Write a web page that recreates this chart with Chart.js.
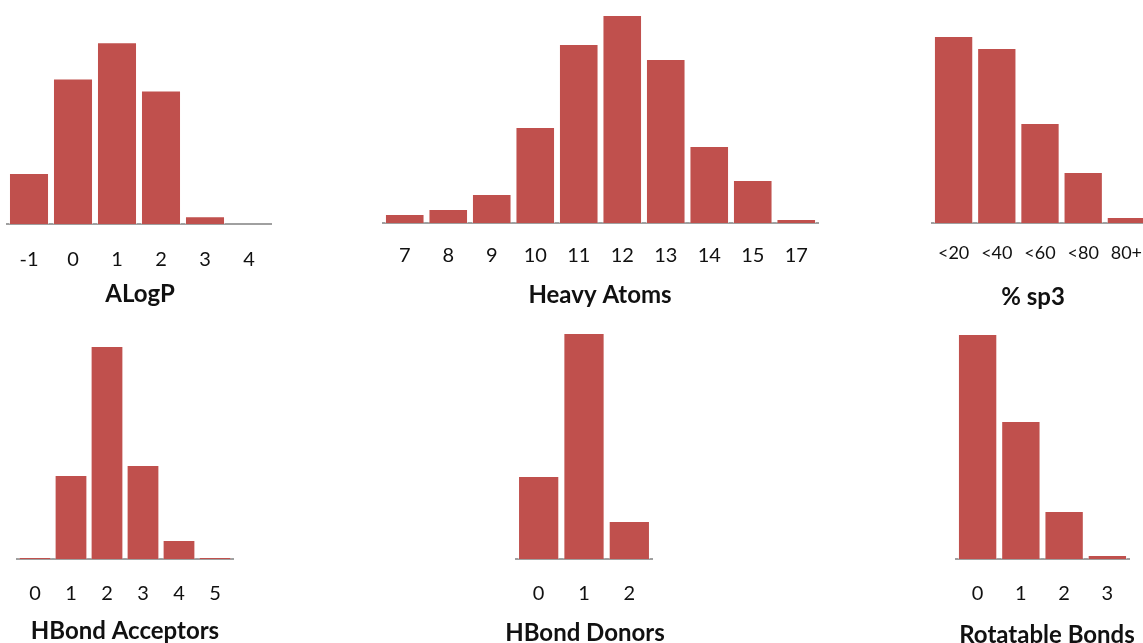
<!DOCTYPE html>
<html>
<head>
<meta charset="utf-8">
<title>Histograms</title>
<script src="https://cdn.jsdelivr.net/npm/chart.js@4"></script>
<style>
  html, body { margin: 0; padding: 0; background: #fff; overflow: hidden; }
  body { width: 1143px; height: 643px; position: relative; }
  canvas { position: absolute; }
</style>
</head>
<body>
<canvas id="alogp" width="280" height="316" style="left:0px;top:0px"></canvas>
<canvas id="heavy" width="450" height="316" style="left:375px;top:0px"></canvas>
<canvas id="sp3" width="240" height="316" style="left:913px;top:0px"></canvas>
<canvas id="acceptors" width="240" height="330" style="left:5px;top:320px"></canvas>
<canvas id="donors" width="200" height="330" style="left:485px;top:320px"></canvas>
<canvas id="rotatable" width="210" height="330" style="left:942px;top:320px"></canvas>
<script>
// values (relative units)
const alogpLabels = ['-1', '0', '1', '2', '3', '4'];
const alogpValues = [51, 145, 181, 133, 8, 0];

const heavyLabels = ['7', '8', '9', '10', '11', '12', '13', '14', '15', '17'];
const heavyValues = [9, 14, 29, 96, 179, 208, 164, 77, 43, 4];

const sp3Labels = ['<20', '<40', '<60', '<80', '80+'];
const sp3Values = [187, 175, 100, 51, 6];

const acceptorLabels = ['0', '1', '2', '3', '4', '5'];
const acceptorValues = [2, 84, 213, 94, 19, 2];

const donorLabels = ['0', '1', '2'];
const donorValues = [83, 226, 38];

const rotatableLabels = ['0', '1', '2', '3'];
const rotatableValues = [225, 138, 48, 4];

const barColor = '#C0504D';

// invisible side axis, only used to reserve horizontal room
function spacer(position, w) {
  return {
    type: 'linear',
    position: position,
    display: true,
    grid: { display: false },
    border: { display: false },
    ticks: { display: false },
    afterFit: (scale) => { scale.width = w; }
  };
}

function histogram(id, title, labels, values, o) {
  const ctx = document.getElementById(id).getContext('2d');
  return new Chart(ctx, {
    type: 'bar',
    data: {
      labels: labels,
      datasets: [{
        data: values,
        backgroundColor: barColor,
        borderColor: 'rgba(255,255,255,0.45)',
        borderWidth: 1,
        barPercentage: 0.91,
        categoryPercentage: 1.0
      }]
    },
    options: {
      responsive: false,
      animation: false,
      layout: { padding: 0 },
      plugins: {
        legend: { display: false },
        tooltip: { enabled: false },
        title: {
          display: true,
          position: 'bottom',
          text: title,
          color: '#111',
          padding: { top: 0, bottom: o.titlePad },
          font: { family: 'Lato', size: 24, weight: 'bold' }
        }
      },
      scales: {
        x: {
          grid: { display: false, drawTicks: true, tickLength: o.tickLen },
          border: { display: true, color: '#a0a0a0', width: 2 },
          ticks: {
            color: '#111',
            padding: 0,
            font: { family: 'Lato', size: o.tickSize }
          },
          afterFit: (scale) => { scale.height = o.axisHeight; }
        },
        y: Object.assign(spacer('left', o.left), { min: 0, max: o.yMax }),
        y2: spacer('right', o.right)
      }
    }
  });
}

histogram('alogp', 'ALogP', alogpLabels, alogpValues,
  { tickLen: 23, tickSize: 20, titlePad: 7, axisHeight: 56, yMax: 223, left: 7, right: 9 });
histogram('heavy', 'Heavy Atoms', heavyLabels, heavyValues,
  { tickLen: 21, tickSize: 20, titlePad: 6.6, axisHeight: 57.6, yMax: 223, left: 8, right: 7 });
histogram('sp3', '% sp3', sp3Labels, sp3Values,
  { tickLen: 19, tickSize: 18, titlePad: 3.9, axisHeight: 60.3, yMax: 223, left: 19, right: 5 });
histogram('acceptors', 'HBond Acceptors', acceptorLabels, acceptorValues,
  { tickLen: 23, tickSize: 20, titlePad: 3.9, axisHeight: 58.3, yMax: 239, left: 12, right: 12 });
histogram('donors', 'HBond Donors', donorLabels, donorValues,
  { tickLen: 23, tickSize: 20, titlePad: 2.3, axisHeight: 59.9, yMax: 239, left: 31, right: 33 });
histogram('rotatable', 'Rotatable Bonds', rotatableLabels, rotatableValues,
  { tickLen: 23, tickSize: 20, titlePad: 0.6, axisHeight: 61.6, yMax: 239, left: 14, right: 23 });
</script>
</body>
</html>
